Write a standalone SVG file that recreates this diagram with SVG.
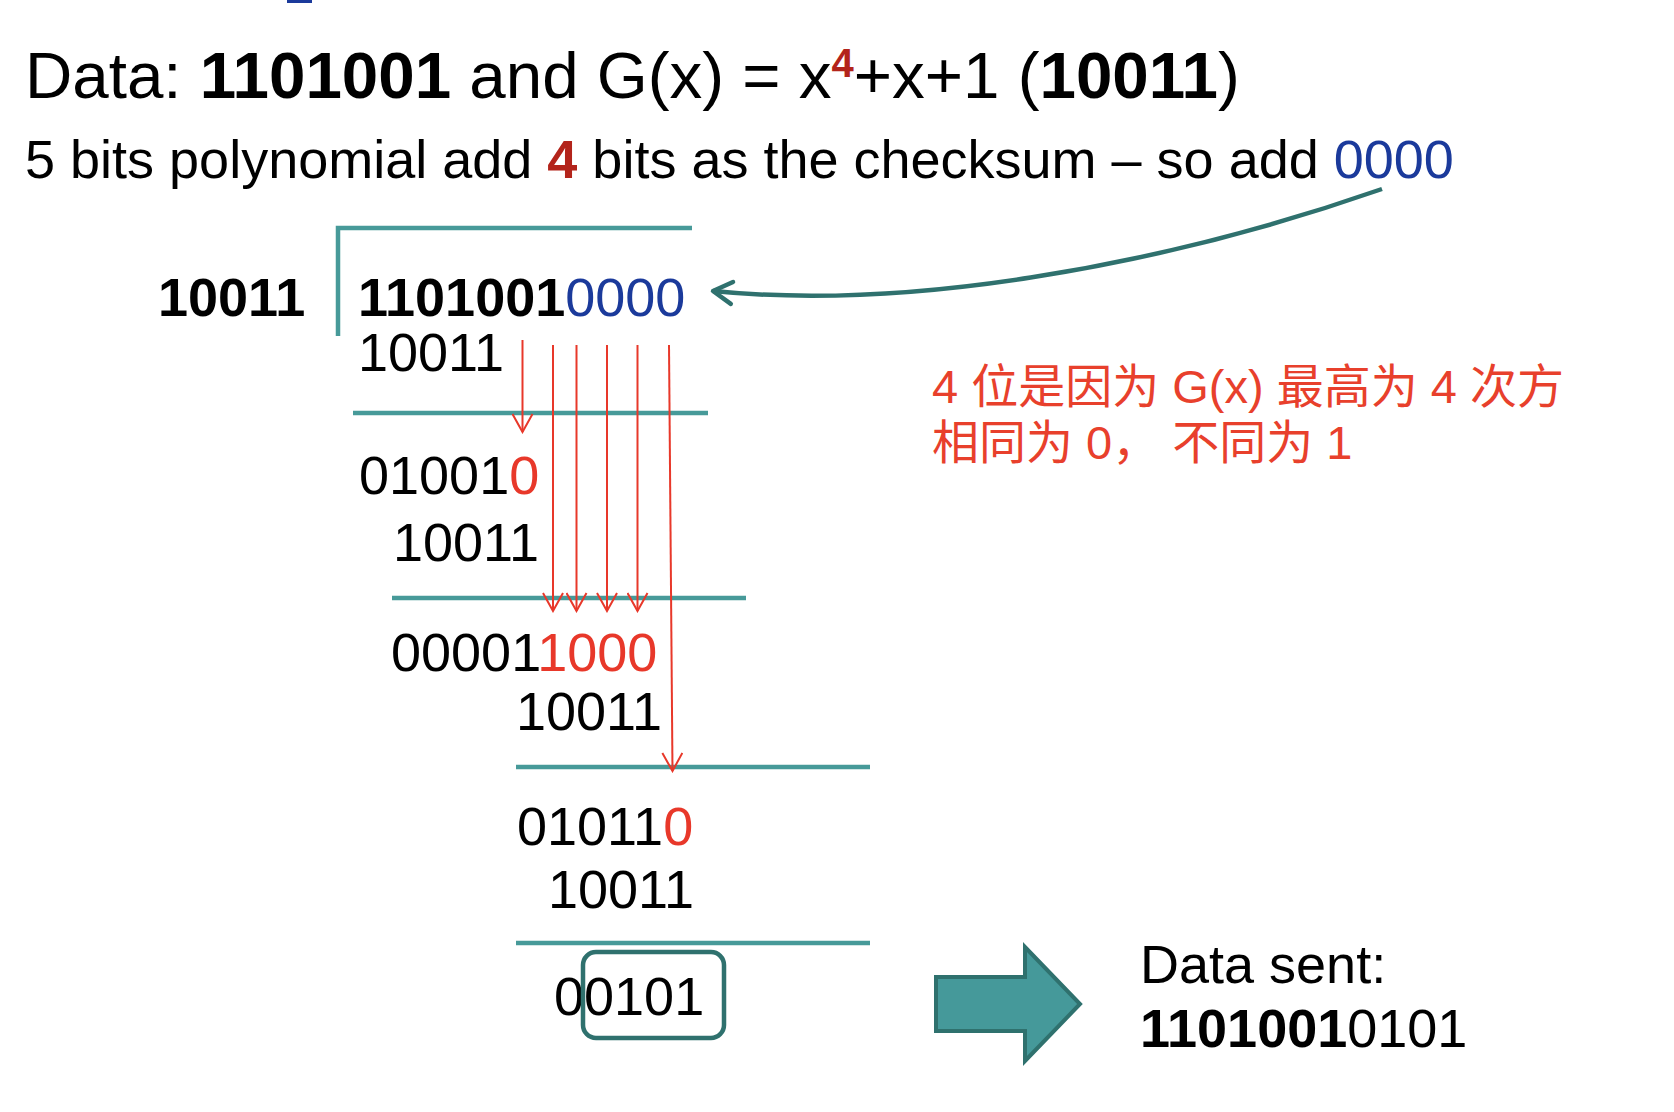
<svg xmlns="http://www.w3.org/2000/svg" width="1674" height="1112" viewBox="0 0 1674 1112">
<defs>
<style>
text{font-family:"Liberation Sans","Noto Sans CJK SC",sans-serif;fill:#000}
.t{font-size:65.5px}
.s{font-size:54px}
.d{font-size:54px}
.b{font-weight:bold}
.red{fill:#e8382a}
.dred{fill:#b3241b}
.blue{fill:#1b3a9b}
.cn{font-size:47px;fill:#e8402c;font-family:"Liberation Sans","Noto Sans CJK SC",sans-serif}
.rule{stroke:#479a99;stroke-width:4.5;fill:none}
.ra{stroke:#e8382a;stroke-width:2;fill:none;marker-end:url(#rh)}
</style>
<marker id="rh" markerUnits="userSpaceOnUse" markerWidth="22" markerHeight="22" viewBox="0 0 22 22" refX="20" refY="11" orient="auto">
<path d="M2,1 L20,11 L2,21" fill="none" stroke="#e8382a" stroke-width="2"/>
</marker>
<marker id="th" markerUnits="userSpaceOnUse" markerWidth="28" markerHeight="30" viewBox="0 0 28 30" refX="24" refY="15" orient="auto">
<path d="M5,4 L24,15 L5,26" fill="none" stroke="#2f716e" stroke-width="4.5" stroke-linecap="round" stroke-linejoin="round"/>
</marker>
</defs>
<rect x="287" y="0" width="25" height="3" fill="#1b3a9b"/>
<g id="title">
<text class="t" x="25" y="98">Data: <tspan class="b">1101001</tspan> and G(x) = x<tspan class="b dred" font-size="40" dy="-21">4</tspan><tspan dy="21">+x+1 (</tspan><tspan class="b">10011</tspan>)</text>
</g>
<g id="subtitle">
<text class="s" x="25" y="178">5 bits polynomial add <tspan class="b dred">4</tspan> bits as the checksum – so add <tspan class="blue">0000</tspan></text>
</g>
<g id="division">
<path class="rule" d="M338,336 V228 H692"/>
<text class="d b" x="158" y="316">10011</text>
<text class="d" x="358" y="316"><tspan class="b">1101001</tspan><tspan class="blue">0000</tspan></text>
<text class="d" x="358" y="371">10011</text>
<line class="rule" x1="353" y1="413" x2="708" y2="413"/>
<text class="d" x="359" y="494">01001<tspan class="red">0</tspan></text>
<text class="d" x="393" y="561">10011</text>
<line class="rule" x1="392" y1="598" x2="746" y2="598"/>
<text class="d" x="391" y="671">00001<tspan class="red">1000</tspan></text>
<text class="d" x="516" y="730">10011</text>
<line class="rule" x1="516" y1="767" x2="870" y2="767"/>
<text class="d" x="517" y="845">01011<tspan class="red">0</tspan></text>
<text class="d" x="548" y="908">10011</text>
<line class="rule" x1="516" y1="943" x2="870" y2="943"/>
<text class="d" x="554" y="1015">00101</text>
<rect x="583" y="952" width="141" height="86" rx="13" fill="none" stroke="#2f716e" stroke-width="4.5"/>
</g>
<g id="note">
<text class="cn" x="932" y="403">4 位是因为 G(x) 最高为 4 次方</text>
<text class="cn" x="932" y="459">相同为 0， 不同为 1</text>
</g>
<g id="result">
<text class="d" x="1140" y="983">Data sent:</text>
<text class="d" x="1140" y="1047"><tspan class="b">1101001</tspan>0101</text>
</g>
<g id="connectors">
<line class="ra" x1="522.5" y1="340" x2="522.5" y2="432"/>
<line class="ra" x1="553" y1="345" x2="553" y2="611"/>
<line class="ra" x1="576.5" y1="345" x2="576.5" y2="611"/>
<line class="ra" x1="607" y1="345" x2="607" y2="611"/>
<line class="ra" x1="637.5" y1="345" x2="637.5" y2="611"/>
<line class="ra" x1="669" y1="345" x2="672.5" y2="771"/>
<path d="M1382,189 C1150,270 900,310 713,291" fill="none" stroke="#2f716e" stroke-width="4.5" marker-end="url(#th)"/>
<polygon points="936,977 1025,977 1025,947 1080,1004 1025,1061 1025,1031 936,1031" fill="#45999a" stroke="#2f716e" stroke-width="4"/>
</g>
</svg>
